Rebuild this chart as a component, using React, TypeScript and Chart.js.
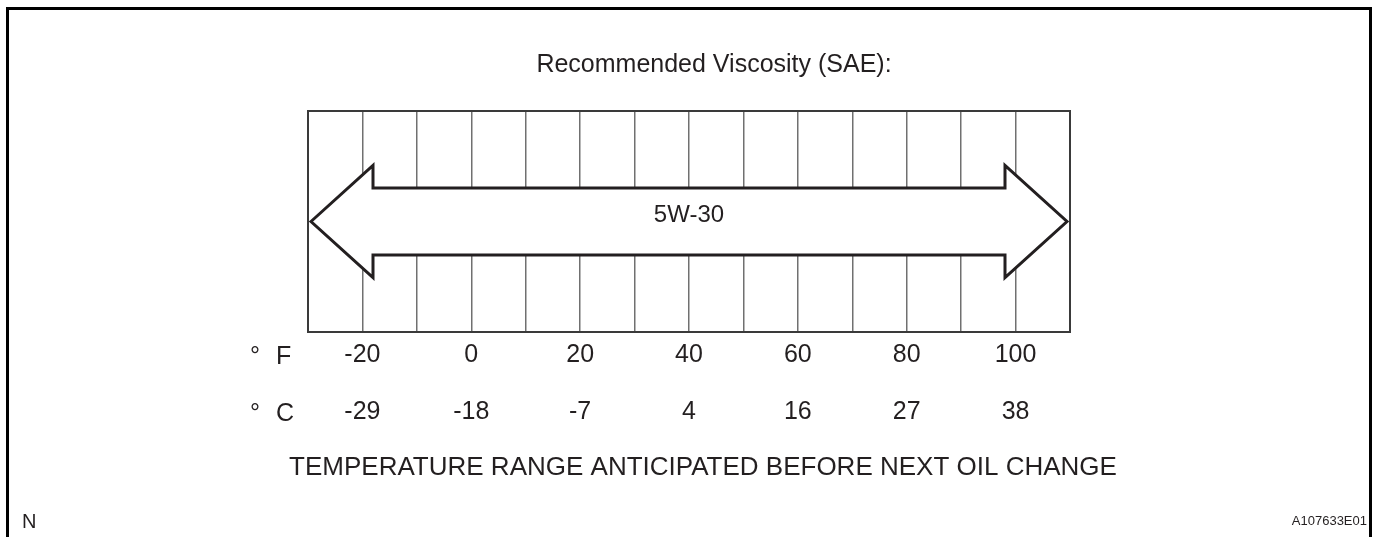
import { useEffect, useRef } from 'react';
import { Chart, registerables } from 'chart.js';

Chart.register(...registerables);

// ---- data ----
const fahrenheitTicks = [-20, 0, 20, 40, 60, 80, 100];
const celsiusTicks = [-29, -18, -7, 4, 16, 27, 38];
const scaleMinF = -30;
const scaleMaxF = 110;
const gridStepF = 10;
const gradeName = '5W-30';
const gradeRangeF = [-30, 110];
const titleText = 'Recommended Viscosity (SAE):';
const axisTitleText = 'TEMPERATURE RANGE ANTICIPATED BEFORE NEXT OIL CHANGE';
const unitLabels = ['F', 'C'];
const footLeftText = 'N';
const footRightText = 'A107633E01';

const FONT = "'Liberation Sans', Arial, Helvetica, sans-serif";
const INK = '#231f20';

const diagramPlugin = {
  id: 'oilDiagram',
  beforeDatasetsDraw(chart: any) {
    const { ctx, chartArea: a } = chart;
    ctx.save();
    ctx.strokeStyle = '#3a3a3a';
    ctx.lineWidth = 2;
    ctx.strokeRect(a.left, a.top, a.right - a.left, a.bottom - a.top);
    ctx.restore();
  },
  afterDatasetsDraw(chart: any) {
    const { ctx } = chart;
    const meta = chart.getDatasetMeta(0);
    const p0 = meta.data[0];
    const p1 = meta.data[meta.data.length - 1];
    const inset = 3;
    const x0 = p0.x + inset;
    const x1 = p1.x - inset;
    const yc = p0.y;
    const headLen = 62;
    const headHalf = 56;
    const shaftHalf = 33.5;
    ctx.save();
    ctx.beginPath();
    ctx.moveTo(x0, yc);
    ctx.lineTo(x0 + headLen, yc - headHalf);
    ctx.lineTo(x0 + headLen, yc - shaftHalf);
    ctx.lineTo(x1 - headLen, yc - shaftHalf);
    ctx.lineTo(x1 - headLen, yc - headHalf);
    ctx.lineTo(x1, yc);
    ctx.lineTo(x1 - headLen, yc + headHalf);
    ctx.lineTo(x1 - headLen, yc + shaftHalf);
    ctx.lineTo(x0 + headLen, yc + shaftHalf);
    ctx.lineTo(x0 + headLen, yc + headHalf);
    ctx.closePath();
    ctx.fillStyle = '#ffffff';
    ctx.fill();
    ctx.lineWidth = 3;
    ctx.lineJoin = 'miter';
    ctx.strokeStyle = INK;
    ctx.stroke();
    // grade label
    ctx.fillStyle = INK;
    ctx.font = `24px ${FONT}`;
    ctx.textAlign = 'center';
    ctx.textBaseline = 'alphabetic';
    ctx.fillText(gradeName, (p0.x + p1.x) / 2, yc);
    ctx.restore();
  },
  afterDraw(chart: any) {
    const { ctx, width } = chart;
    ctx.save();
    // outer frame (open at bottom)
    ctx.strokeStyle = '#000000';
    ctx.lineWidth = 3;
    ctx.beginPath();
    ctx.moveTo(7.5, chart.height);
    ctx.lineTo(7.5, 8.5);
    ctx.lineTo(width - 6.5, 8.5);
    ctx.lineTo(width - 6.5, chart.height);
    ctx.stroke();

    ctx.fillStyle = INK;
    ctx.textBaseline = 'alphabetic';
    // title
    ctx.font = `25px ${FONT}`;
    ctx.textAlign = 'center';
    ctx.fillText(titleText, 714, 72);
    // axis title
    ctx.font = `26px ${FONT}`;
    ctx.fillText(axisTitleText, 703, 475);
    // unit labels
    ctx.textAlign = 'left';
    const rowBase = [364, 421];
    unitLabels.forEach((u, i) => {
      ctx.font = `25px ${FONT}`;
      ctx.fillText('°', 250, rowBase[i]);
      ctx.fillText(u, 276, rowBase[i]);
    });
    // footnotes
    ctx.font = `20px ${FONT}`;
    ctx.fillText(footLeftText, 22, 528);
    ctx.font = `13px ${FONT}`;
    ctx.textAlign = 'right';
    ctx.fillText(footRightText, 1367, 525);
    ctx.restore();
  },
};

export default function App() {
  const ref = useRef<HTMLCanvasElement | null>(null);
  useEffect(() => {
    if (!ref.current) return;
    const chart = new Chart(ref.current, {
      type: 'scatter',
      data: {
        datasets: [
          {
            label: gradeName,
            data: gradeRangeF.map((x) => ({ x, y: 0.5 })),
            pointRadius: 0,
            showLine: false,
          },
        ],
      },
      options: {
        animation: false,
        responsive: true,
        maintainAspectRatio: false,
        events: [],
        layout: { padding: { left: 308, right: 307, top: 111, bottom: 0 } },
        plugins: {
          legend: { display: false },
          tooltip: { enabled: false },
          title: { display: false },
        },
        scales: {
          x: {
            type: 'linear',
            position: 'bottom',
            min: scaleMinF,
            max: scaleMaxF,
            afterFit(scale: any) {
              scale.height = 537 - 332;
            },
            grid: {
              color: '#707070',
              lineWidth: 1.5,
              drawTicks: false,
            },
            border: { display: false },
            ticks: {
              stepSize: gridStepF,
              autoSkip: false,
              maxRotation: 0,
              minRotation: 0,
              padding: -6,
              color: INK,
              font: { family: FONT, size: 25, lineHeight: '57.5px' },
              callback(value: any) {
                const i = fahrenheitTicks.indexOf(Number(value));
                if (i < 0) return '';
                return [String(fahrenheitTicks[i]), String(celsiusTicks[i])];
              },
            },
          },
          y: {
            type: 'linear',
            display: false,
            min: 0,
            max: 1,
          },
        },
      },
      plugins: [diagramPlugin],
    });
    return () => chart.destroy();
  }, []);
  return (
    <div style={{ position: 'fixed', left: 0, top: 0, width: 1377, height: 537, background: '#fff' }}>
      <canvas ref={ref} />
    </div>
  );
}
